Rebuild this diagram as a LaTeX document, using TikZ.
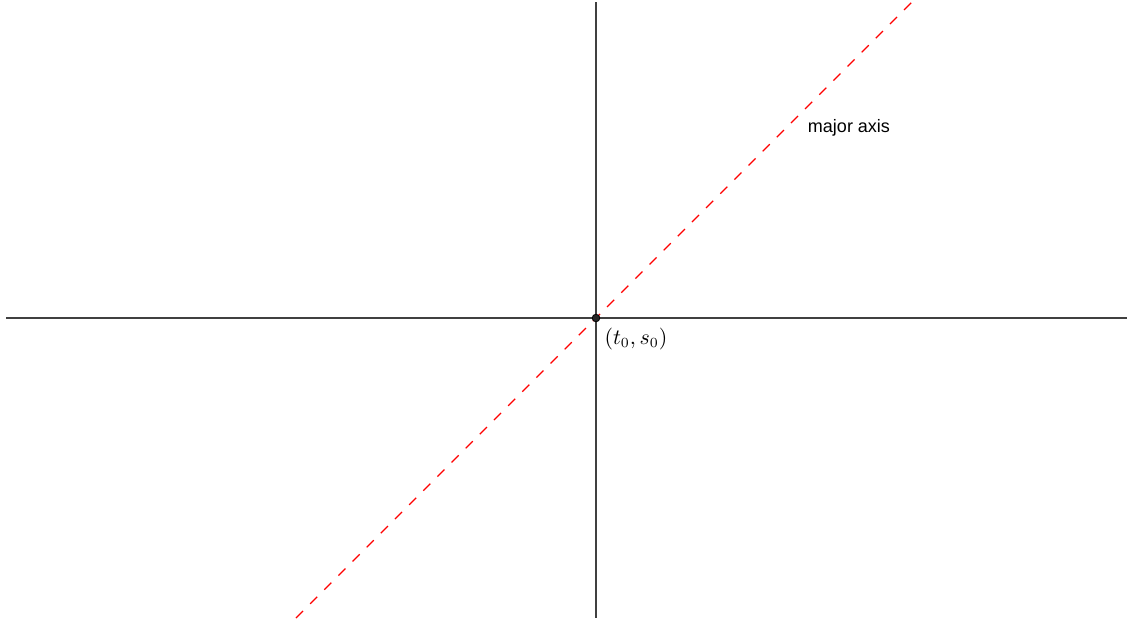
\documentclass[tikz,border=0pt]{standalone}
\usepackage{fontspec}
\newfontfamily\labelfont{Liberation Sans}
\begin{document}
\begin{tikzpicture}[x=0.5pt,y=-0.5pt,
  axis/.style={draw=black!75,line width=0.65pt},
  majoraxis/.style={draw=red,line width=0.6pt,dash pattern=on 5pt off 5pt},
  ptdot/.style={circle,draw=black,fill=black!85,line width=0.4pt,inner sep=0pt,minimum size=3.8pt},
  txt/.style={font=\labelfont\fontsize{9}{11}\selectfont,text=black}]
\useasboundingbox (0,0) rectangle (1131,623);
\coordinate (L) at (6,318);
\coordinate (R) at (1127,318);
\coordinate (T) at (596,2);
\coordinate (B) at (596,618);
\coordinate (MA1) at (296,618);
\coordinate (MA2) at (912,2);
\draw[axis] (L) -- (R);
\draw[axis] (T) -- (B);
\draw[majoraxis] (MA1) -- (MA2);
\node[ptdot] (O) at (596,318) {};
\node[font=\fontsize{10.5}{12}\selectfont] (Olabel) at (636,339) {$(t_0,s_0)$};
\node[txt] (MAlabel) at (849,128) {major axis};
\end{tikzpicture}
\end{document}
